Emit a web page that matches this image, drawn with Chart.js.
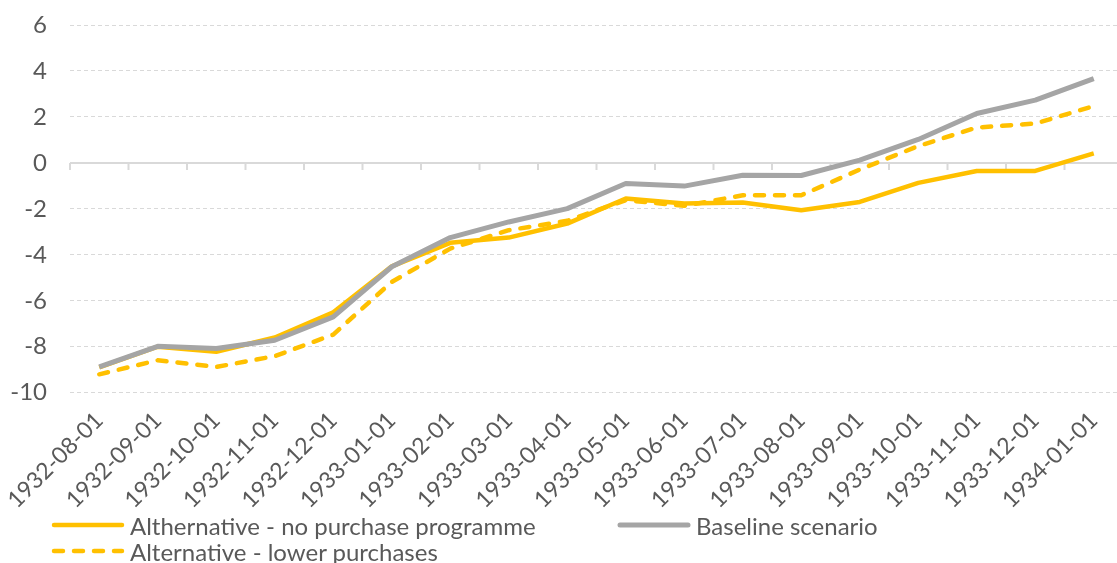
<!DOCTYPE html>
<html lang="en">
<head>
    <meta charset="UTF-8">
    <title>Purchase programme scenarios</title>
    <script src="https://cdn.jsdelivr.net/npm/chart.js"></script>
    <style>
        html, body {
            margin: 0;
            padding: 0;
            background: #fff;
            overflow: hidden;
        }
        #wrap {
            position: relative;
            width: 1123px;
            height: 563px;
        }
        #legend {
            position: absolute;
            left: 51px;
            top: 512px;
            display: grid;
            grid-template-columns: 566px auto;
            grid-auto-rows: 26px;
            font-family: Lato, sans-serif;
            font-size: 24px;
            color: #595959;
        }
        .item {
            display: flex;
            align-items: center;
            white-space: nowrap;
        }
        .item svg {
            margin-right: 5px;
        }
    </style>
</head>
<body>

<div id="wrap">
    <canvas id="scenarioChart" width="1123" height="563"></canvas>
    <div id="legend"></div>
</div>

<script>
    const categories = [
        "1932-08-01", "1932-09-01", "1932-10-01", "1932-11-01", "1932-12-01",
        "1933-01-01", "1933-02-01", "1933-03-01", "1933-04-01", "1933-05-01",
        "1933-06-01", "1933-07-01", "1933-08-01", "1933-09-01", "1933-10-01",
        "1933-11-01", "1933-12-01", "1934-01-01"
    ];

    const noPurchase = [
        -8.9, -8.0, -8.22, -7.6, -6.5, -4.5, -3.48, -3.25, -2.64, -1.55,
        -1.77, -1.72, -2.06, -1.7, -0.87, -0.35, -0.35, 0.41
    ];
    const baseline = [
        -8.88, -7.98, -8.08, -7.72, -6.7, -4.52, -3.25, -2.57, -1.99, -0.9,
        -1.01, -0.54, -0.55, 0.12, 1.02, 2.15, 2.73, 3.67
    ];
    const lowerPurchases = [
        -9.2, -8.59, -8.88, -8.41, -7.47, -5.18, -3.73, -2.93, -2.52, -1.62,
        -1.87, -1.41, -1.41, -0.29, 0.73, 1.54, 1.71, 2.47
    ];

    const yMin = -10, yMax = 6, yStep = 2;

    const textColor = "#595959";
    const gridColor = "#d9d9d9";

    // zero axis line with category tick marks, like the original
    const zeroAxis = {
        id: "zeroAxis",
        beforeDatasetsDraw(chart) {
            const { ctx, chartArea, scales: { x, y } } = chart;
            const y0 = y.getPixelForValue(0);
            const half = (x.getPixelForTick(1) - x.getPixelForTick(0)) / 2;
            ctx.save();
            ctx.strokeStyle = gridColor;
            ctx.lineWidth = 2;
            ctx.beginPath();
            ctx.moveTo(chartArea.left, y0);
            ctx.lineTo(chartArea.right, y0);
            for (let i = 0; i <= categories.length; i++) {
                const px = x.getPixelForTick(0) - half + i * 2 * half;
                ctx.moveTo(px, y0);
                ctx.lineTo(px, y0 + 7);
            }
            ctx.stroke();
            ctx.restore();
        }
    };

    const datasets = [
        {
            label: "Althernative - no purchase programme",
            data: noPurchase,
            borderColor: "#ffc000",
            borderWidth: 4.5,
            order: 1
        },
        {
            label: "Baseline scenario",
            data: baseline,
            borderColor: "#a5a5a5",
            borderWidth: 5,
            order: 0
        },
        {
            label: "Alternative - lower purchases",
            data: lowerPurchases,
            borderColor: "#ffc000",
            borderWidth: 4.5,
            borderDash: [9, 11],
            borderCapStyle: "round",
            order: 2
        }
    ];

    const ctx = document.getElementById("scenarioChart").getContext("2d");
    new Chart(ctx, {
        type: "line",
        data: { labels: categories, datasets: datasets },
        options: {
            responsive: false,
            animation: false,
            layout: { padding: { top: 25, left: 0, right: 0, bottom: 0 } },
            elements: {
                point: { radius: 0 },
                line: { tension: 0, borderJoinStyle: "round" }
            },
            plugins: {
                legend: { display: false },
                tooltip: { enabled: false }
            },
            scales: {
                x: {
                    offset: true,
                    grid: { display: false, drawTicks: false },
                    border: { display: false },
                    ticks: {
                        autoSkip: false,
                        minRotation: 45,
                        maxRotation: 45,
                        padding: 14,
                        color: textColor,
                        font: { family: "Lato", size: 23 }
                    },
                    afterFit: s => {
                        s.height = 563 - 392.7;
                        s.paddingLeft = 0;
                        s.paddingRight = 0;
                    }
                },
                y: {
                    min: yMin,
                    max: yMax,
                    grid: {
                        drawTicks: false,
                        color: c => c.tick.value === 0 ? "rgba(0,0,0,0)" : gridColor,
                        lineWidth: 1
                    },
                    border: { display: false, dash: [4, 3] },
                    ticks: {
                        stepSize: yStep,
                        padding: 23,
                        color: textColor,
                        font: { family: "Lato", size: 24 }
                    },
                    afterFit: s => {
                        s.width = 70;
                        s.paddingTop = 0;
                        s.paddingBottom = 0;
                    }
                }
            }
        },
        plugins: [zeroAxis]
    });

    // legend laid out as in the original (two columns)
    const legend = document.getElementById("legend");
    datasets.forEach(ds => {
        const dash = ds.borderDash ? `stroke-dasharray="${ds.borderDash.join(" ")}"` : "";
        legend.insertAdjacentHTML("beforeend", `
            <div class="item">
                <svg width="74" height="10"><line x1="3" y1="5" x2="71" y2="5"
                    stroke="${ds.borderColor}" stroke-width="${ds.borderWidth}"
                    stroke-linecap="round" ${dash}/></svg>
                <span>${ds.label}</span>
            </div>`);
    });
</script>

</body>
</html>
